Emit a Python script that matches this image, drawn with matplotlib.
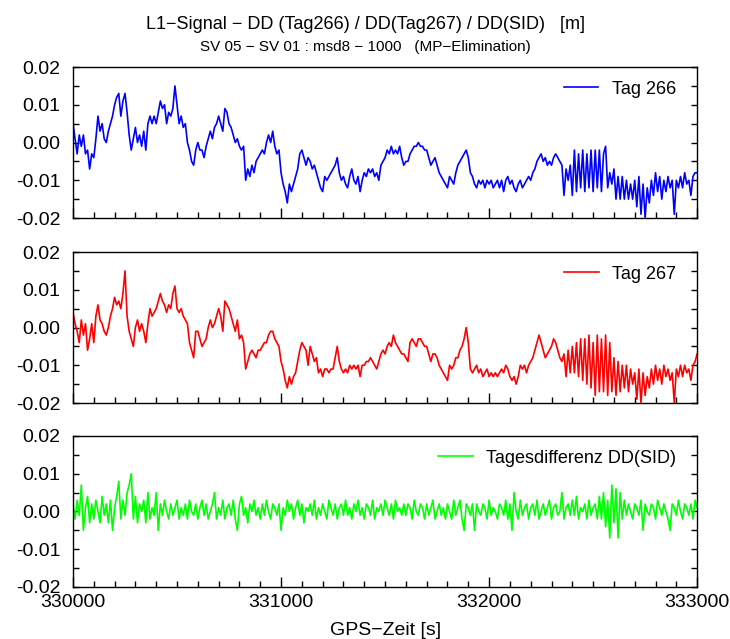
import matplotlib
matplotlib.use("Agg")
import matplotlib.pyplot as plt
import numpy as np
from matplotlib.ticker import MultipleLocator, FormatStrFormatter

plt.rcParams["font.family"] = ["Liberation Sans", "DejaVu Sans"]

# GPS time grid [s], one sample every 10 s
t_start, t_end, t_step = 330000, 333000, 10

# double differences in mm, converted to m below
tag266_mm = [
    5, 1, -3, 2, -1, 2, -3, -2, -7, -3,
    -4, 1, 7, 3, 5, 1, 0, 3, 5, 7,
    10, 12, 13, 7, 11, 13, 8, 2, -2, 1,
    4, 0, 2, -1, 3, -2, 5, 7, 5, 7,
    5, 8, 11, 9, 10, 5, 8, 7, 9, 15,
    10, 5, 7, 4, 5, 0, -2, -5, -6, -2,
    0, -2, -2, -4, -1, 1, 3, 1, 4, 5,
    7, 5, 3, 9, 8, 5, 4, 2, 0, 1,
    -1, -2, -1, -10, -7, -9, -6, -8, -5, -4,
    -3, -2, -3, 0, 2, 0, 3, -1, -3, -2,
    -8, -11, -13, -16, -11, -13, -11, -9, -7, -3,
    -2, -4, -6, -4, -5, -7, -6, -8, -10, -12,
    -13, -9, -10, -9, -8, -7, -6, -4, -8, -10,
    -9, -11, -12, -9, -7, -10, -11, -9, -13, -10,
    -8, -9, -7, -8, -7, -9, -8, -10, -6, -5,
    -4, -2, -3, -1, -3, -2, -3, -1, -4, -6,
    -5, -5, -3, -2, -1, -1, 0, -1, -1, -2,
    -2, -4, -6, -5, -4, -6, -8, -9, -10, -11,
    -12, -9, -10, -11, -8, -6, -5, -4, -3, -2,
    -4, -8, -9, -11, -12, -10, -11, -10, -12, -10,
    -11, -10, -12, -11, -10, -12, -10, -13, -10, -9,
    -11, -10, -12, -13, -11, -10, -12, -11, -10, -9,
    -10, -8, -7, -5, -4, -3, -5, -4, -6, -5,
    -6, -4, -3, -4, -5, -6, -14, -7, -10, -6,
    -14, -2, -13, -3, -12, -2, -13, -3, -12, -2,
    -13, -2, -12, -2, -13, -3, -1, -12, -8, -11,
    -7, -15, -9, -15, -9, -15, -10, -15, -11, -15,
    -10, -17, -9, -19, -11, -20, -12, -16, -10, -14,
    -8, -13, -9, -15, -10, -13, -9, -12, -10, -19,
    -10, -12, -9, -12, -8, -11, -10, -14, -9, -8,
    -8,
]

tag267_mm = [
    4, 1, -1, -4, 2, -2, 1, -6, -3, 1,
    -4, 3, 6, 2, 1, -1, -2, 0, 3, 5,
    8, 6, 7, 5, 9, 15, 3, -1, -3, -5,
    0, 2, -1, 1, -1, -4, 1, 5, 3, 4,
    5, 7, 9, 7, 6, 4, 6, 5, 9, 11,
    5, 4, 5, 3, 2, 1, -4, -6, -8, -1,
    -1, -3, -5, -4, -3, 0, 2, 0, 1, 3,
    5, 3, -1, 7, 6, 5, 3, 1, -1, 2,
    -3, -2, -4, -11, -9, -7, -6, -7, -8, -6,
    -6, -5, -4, -4, -2, -1, -1, -3, -4, -5,
    -9, -11, -14, -16, -13, -15, -13, -12, -9, -6,
    -4, -5, -6, -10, -5, -7, -9, -8, -12, -11,
    -13, -11, -11, -12, -11, -11, -8, -5, -9, -11,
    -12, -11, -12, -10, -11, -10, -11, -10, -13, -10,
    -10, -9, -9, -8, -9, -10, -11, -9, -7, -6,
    -7, -5, -4, -5, -2, -4, -5, -6, -7, -7,
    -8, -9, -4, -3, -4, -5, -3, -3, -4, -5,
    -5, -7, -9, -7, -7, -8, -10, -11, -12, -13,
    -14, -10, -11, -10, -8, -8, -6, -5, -3, 0,
    -4, -11, -12, -11, -10, -12, -11, -13, -12, -11,
    -13, -12, -13, -12, -13, -12, -11, -12, -10, -11,
    -13, -14, -13, -15, -13, -10, -11, -10, -12, -10,
    -9, -8, -6, -4, -2, -4, -6, -8, -7, -6,
    -5, -3, -4, -6, -8, -9, -7, -13, -6, -12,
    -5, -12, -4, -13, -3, -14, -3, -15, -2, -16,
    -4, -18, -2, -17, -3, -17, -2, -18, -4, -17,
    -8, -18, -9, -17, -10, -16, -10, -17, -11, -15,
    -12, -19, -11, -20, -12, -18, -13, -16, -11, -15,
    -10, -14, -11, -15, -10, -13, -11, -14, -12, -20,
    -11, -13, -10, -13, -10, -12, -11, -14, -10, -9,
    -7,
]

sid_mm = [
    2, -2, 3, -1, 7, -5, 1, 4, -3, 2,
    -2, 3, 0, -3, 4, -1, 2, -3, 3, -5,
    1, 4, 8, -2, 3, -1, 5, 7, 10, -2,
    4, -3, 2, 0, 3, -3, 5, -2, 1, -1,
    5, -5, 2, -1, 3, 0, -2, 2, -1, 1,
    3, -2, 1, -1, 2, -2, 3, 0, -1, 2,
    -2, 1, 3, -1, 2, -2, 0, 2, 5, -2,
    1, -1, 3, -2, 1, 2, -1, 3, -2, -5,
    2, 4, -1, 1, -3, 2, 0, 3, -1, 1,
    -2, 2, -1, 3, 0, -2, 2, 1, -1, 2,
    -5, 1, -1, 3, 0, 2, -2, 1, 3, -1,
    2, -3, 1, 0, 2, -1, 3, -2, 1, -1,
    2, 0, -2, 3, 1, -1, 2, -2, 1, 2,
    -1, 3, -1, 1, -2, 2, 0, 3, -1, 1,
    -2, 2, 1, -1, 3, -2, 1, 0, 2, -1,
    3, 1, -1, 2, -2, 3, 0, 1, -1, 2,
    -1, 2, 1, -2, 3, 0, -1, 2, 1, -2,
    2, -1, 1, 3, -2, 0, 2, -1, 1, -2,
    2, 0, -2, 3, -1, 1, 3, -2, -5, 2,
    1, -1, 2, -5, 2, 0, -1, 2, 1, -2,
    3, -1, 1, 0, -2, 2, 1, -1, 3, -2,
    2, -5, 5, 0, -2, 3, -1, 1, 2, -2,
    1, 2, -1, 3, -2, 0, 2, -1, 1, 3,
    -2, 1, 2, -1, 0, 5, -2, 1, 2, -1,
    3, -1, 4, -2, 1, 0, 2, -2, 3, -1,
    1, 2, -2, 4, -2, 5, -4, 3, -7, 7,
    -3, 6, -7, 5, -2, 3, -1, 2, 0, -2,
    2, 1, -1, 3, -5, 2, 0, -1, 2, 1,
    -2, 3, 1, -1, 2, 0, -2, -5, 2, 1,
    -1, 3, 0, -2, 2, 1, -1, 2, -2, 3,
    1,
]

labels = ["Tag 266", "Tag 267", "Tagesdifferenz DD(SID)"]
colors = ["#0000ff", "#ff0000", "#00ff00"]

t = np.arange(t_start, t_end + 1, t_step)
series = [np.array(s) * 1e-3 for s in (tag266_mm, tag267_mm, sid_mm)]

fig = plt.figure(figsize=(7.3, 6.39), dpi=100)
left, width = 0.1, 0.855
bottoms = [0.6588, 0.3693, 0.0814]
height = 0.2363

for k, (y, lab, col) in enumerate(zip(series, labels, colors)):
    ax = fig.add_axes([left, bottoms[k], width, height])
    ax.plot(t, y, color=col, lw=1.2, label=lab)
    ax.set_xlim(t_start, t_end)
    ax.set_ylim(-0.02, 0.02)
    ax.yaxis.set_major_locator(MultipleLocator(0.01))
    ax.yaxis.set_minor_locator(MultipleLocator(0.005))
    ax.yaxis.set_major_formatter(FormatStrFormatter("%.2f"))
    ax.xaxis.set_major_locator(MultipleLocator(1000))
    ax.xaxis.set_minor_locator(MultipleLocator(100))
    ax.tick_params(which="both", direction="in", top=False, right=True,
                   labelsize=14, width=1)
    ax.tick_params(axis="x", which="major", length=7, pad=5)
    ax.tick_params(axis="x", which="minor", length=4)
    ax.tick_params(axis="y", which="both", length=4, pad=9)
    if k < 2:
        ax.tick_params(axis="x", labelbottom=False)
    else:
        ax.set_xlabel("GPS\u2212Zeit [s]", fontsize=14, labelpad=8)
    for sp in ax.spines.values():
        sp.set_linewidth(1.0)
    ax.legend(loc="upper right", frameon=False, fontsize=13,
              handlelength=1.9, handletextpad=0.75,
              bbox_to_anchor=(0.988, 1.0), borderaxespad=0.35)

fig.text(0.5, 0.961, "L1\u2212Signal \u2212 DD (Tag266) / DD(Tag267) / DD(SID)   [m]",
         ha="center", va="center", fontsize=13)
fig.text(0.5, 0.926, "SV 05 \u2212 SV 01 : msd8 \u2212 1000   (MP\u2212Elimination)",
         ha="center", va="center", fontsize=11)

fig.savefig("out.png", dpi=100)
